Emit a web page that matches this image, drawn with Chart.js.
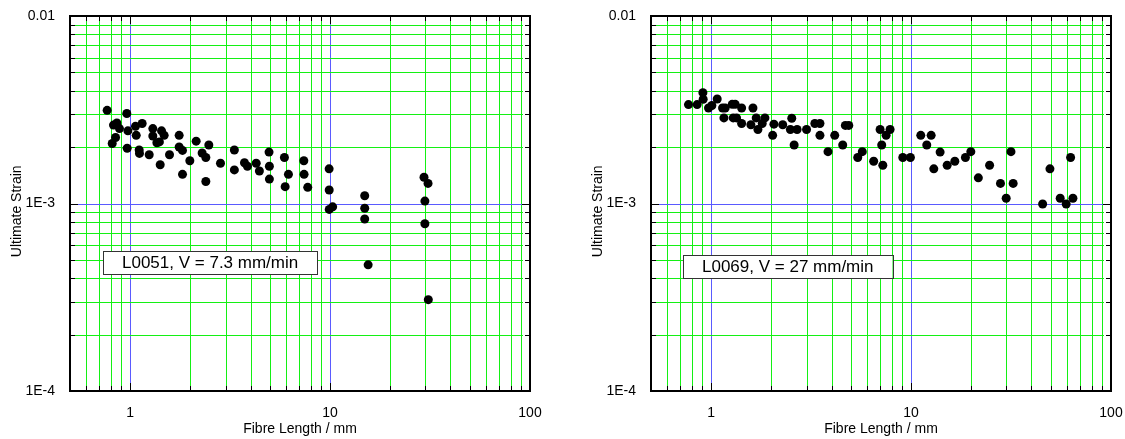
<!DOCTYPE html>
<html>
<head>
<meta charset="utf-8">
<script src="https://cdn.jsdelivr.net/npm/chart.js@4/dist/chart.umd.min.js"></script>
<style>
  body { margin: 0; background: #fff; overflow: hidden; }
  .panel { position: absolute; top: 0; width: 544px; height: 439px; }
</style>
</head>
<body>
<div class="panel" style="left:0"><canvas id="chartL0051" width="544" height="439"></canvas></div>
<div class="panel" style="left:581px"><canvas id="chartL0069" width="544" height="439"></canvas></div>
<script>
// Daten: Faserlänge (mm) und Bruchdehnung
const lengthL0051 = [0.767, 0.962, 0.813, 0.825, 0.858, 0.884, 0.845, 0.974, 0.966, 1.063,
  1.072, 1.148, 1.109, 1.113, 1.245, 1.298, 1.298, 1.36, 1.40, 1.435,
  1.479, 1.413, 1.573, 1.758, 1.758, 1.827, 1.827, 1.988, 2.138, 2.29,
  2.39, 2.39, 2.474, 2.83, 3.32, 3.32, 3.73, 3.86, 4.27, 4.43,
  4.95, 4.97, 4.97, 5.91, 6.19, 5.96, 7.39, 7.41, 7.73, 9.89,
  9.9, 9.9, 10.3, 14.9, 14.9, 14.9, 15.5, 29.5, 30.9, 29.8,
  29.8, 31.0];
const strainL0051 = [0.00314, 0.00302, 0.00209, 0.00262, 0.00269, 0.00251, 0.00225, 0.00244, 0.00197, 0.00258,
  0.00231, 0.00267, 0.00193, 0.00185, 0.00182, 0.00251, 0.00229, 0.00211, 0.00213, 0.00244,
  0.00231, 0.00161, 0.00182, 0.00231, 0.00200, 0.00192, 0.00143, 0.00169, 0.00215, 0.00186,
  0.00176, 0.00131, 0.00205, 0.00164, 0.00193, 0.00151, 0.00165, 0.00158, 0.00164, 0.00149,
  0.00188, 0.00158, 0.00135, 0.00176, 0.00143, 0.00123, 0.00169, 0.00143, 0.00122, 0.00153,
  0.00118, 0.00093, 0.00096, 0.00110, 0.000943, 0.000827, 0.000471, 0.00138, 0.00128, 0.00103,
  0.00078, 0.000307];

const lengthL0069 = [0.770, 0.851, 0.909, 0.912, 0.970, 1.008, 1.072, 1.14, 1.175, 1.158,
  1.274, 1.319, 1.289, 1.34, 1.42, 1.42, 1.58, 1.618, 1.68, 1.713,
  1.80, 1.857, 2.03, 2.06, 2.28, 2.49, 2.53, 2.69, 2.60, 3.00,
  3.30, 3.50, 3.50, 3.84, 4.15, 4.55, 4.69, 4.88, 5.41, 5.70,
  6.50, 7.0, 7.13, 7.22, 7.50, 7.85, 9.09, 9.92, 11.18, 12.6,
  11.98, 13.97, 12.99, 15.15, 16.55, 18.7, 19.9, 21.7, 24.7, 28.0,
  29.9, 31.6, 32.4, 45.5, 49.5, 55.7, 59.7, 62.8, 64.5];
const strainL0069 = [0.00337, 0.00337, 0.00390, 0.00360, 0.00323, 0.00333, 0.00361, 0.00323, 0.00323, 0.00286,
  0.00338, 0.00338, 0.00286, 0.00286, 0.00323, 0.00267, 0.00263, 0.00323, 0.00286, 0.00248,
  0.00267, 0.00286, 0.00231, 0.00265, 0.00263, 0.00248, 0.00285, 0.00248, 0.00205, 0.00248,
  0.00267, 0.00267, 0.00231, 0.00189, 0.00231, 0.00205, 0.00261, 0.00261, 0.00176, 0.00189,
  0.00168, 0.00248, 0.00205, 0.00160, 0.00231, 0.00248, 0.00176, 0.00176, 0.00231, 0.00231,
  0.00205, 0.00188, 0.00153, 0.00160, 0.00168, 0.00176, 0.00189, 0.00137, 0.00160, 0.00128,
  0.001066, 0.00189, 0.00128, 0.000994, 0.00153, 0.001066, 0.000994, 0.00176, 0.001066];

// Achsen
const lengthTicks = [0.5, 0.6, 0.7, 0.8, 0.9, 1, 2, 3, 4, 5, 6, 7, 8, 9,
  10, 20, 30, 40, 50, 60, 70, 80, 90, 100];
const strainTicks = [0.0001, 0.0002, 0.0003, 0.0004, 0.0005, 0.0006, 0.0007, 0.0008, 0.0009,
  0.001, 0.002, 0.003, 0.004, 0.005, 0.006, 0.007, 0.008, 0.009, 0.01];
const lengthLabelValues = [1, 10, 100];
const lengthLabelTexts = ["1", "10", "100"];
const strainLabelValues = [0.0001, 0.001, 0.01];
const strainLabelTexts = ["1E-4", "1E-3", "0.01"];

const FONT = "'Liberation Sans', Arial, sans-serif";
const GREEN = "#14f014";
const BLUE = "#5a5aff";

function same(a, b) {
  return Math.abs(Math.log10(a) - Math.log10(b)) < 1e-6;
}
function isDecade(v) {
  const l = Math.log10(v);
  return Math.abs(l - Math.round(l)) < 1e-6;
}
function labelFor(v, values, texts) {
  const i = values.findIndex((t) => same(t, v));
  return i >= 0 ? texts[i] : "";
}

// Gitter selbst zeichnen (grün = Zwischenwerte, blau = Dekaden)
const gridPlugin = {
  id: "logGrid",
  beforeDatasetsDraw(chart) {
    const { ctx, chartArea: a, scales } = chart;
    ctx.save();
    ctx.lineWidth = 1;
    lengthTicks.forEach((v) => {
      if (same(v, lengthTicks[0]) || same(v, lengthTicks[lengthTicks.length - 1])) return;
      const px = Math.round(scales.x.getPixelForValue(v)) + 0.5;
      ctx.strokeStyle = isDecade(v) ? BLUE : GREEN;
      ctx.beginPath();
      ctx.moveTo(px, a.top);
      ctx.lineTo(px, a.bottom);
      ctx.stroke();
    });
    strainTicks.forEach((v) => {
      if (same(v, strainTicks[0]) || same(v, strainTicks[strainTicks.length - 1])) return;
      const py = Math.round(scales.y.getPixelForValue(v)) + 0.5;
      ctx.strokeStyle = isDecade(v) ? BLUE : GREEN;
      ctx.beginPath();
      ctx.moveTo(a.left, py);
      ctx.lineTo(a.right - 7, py);
      ctx.stroke();
    });
    ctx.restore();
  }
};

// Rahmen, Ticks nach innen und Beschriftungsbox
function framePlugin(note) {
  return {
    id: "frame",
    afterDatasetsDraw(chart) {
      const { ctx, chartArea: a, scales } = chart;
      ctx.save();
      ctx.strokeStyle = "#000";
      ctx.lineWidth = 1;
      ctx.beginPath();
      lengthTicks.forEach((v) => {
        const px = Math.round(scales.x.getPixelForValue(v)) + 0.5;
        const len = isDecade(v) ? 8 : 5;
        ctx.moveTo(px, a.top); ctx.lineTo(px, a.top + len);
        ctx.moveTo(px, a.bottom); ctx.lineTo(px, a.bottom - len);
      });
      strainTicks.forEach((v) => {
        const py = Math.round(scales.y.getPixelForValue(v)) + 0.5;
        const len = isDecade(v) ? 8 : 5;
        ctx.moveTo(a.left, py); ctx.lineTo(a.left + len, py);
        ctx.moveTo(a.right, py); ctx.lineTo(a.right - len, py);
      });
      ctx.stroke();
      ctx.lineWidth = 2;
      ctx.strokeRect(a.left, a.top, a.right - a.left, a.bottom - a.top);

      // Beschriftungsbox
      ctx.font = "17px " + FONT;
      const w = ctx.measureText(note.text).width + 38;
      const h = 23;
      const bx = a.left + note.dx, by = a.top + note.dy;
      ctx.fillStyle = "#fff";
      ctx.fillRect(bx, by, w, h);
      ctx.lineWidth = 1;
      ctx.strokeStyle = "#333";
      ctx.strokeRect(Math.round(bx) + 0.5, Math.round(by) + 0.5, Math.round(w), h);
      ctx.fillStyle = "#000";
      ctx.textAlign = "center";
      ctx.textBaseline = "middle";
      ctx.fillText(note.text, bx + w / 2, by + h / 2 + 1);
      ctx.restore();
    }
  };
}

function makeChart(id, lengths, strains, note) {
  const points = lengths.map((x, i) => ({ x: x, y: strains[i] }));
  new Chart(document.getElementById(id), {
    type: "scatter",
    data: {
      datasets: [{
        data: points,
        pointRadius: 4.5,
        pointBackgroundColor: "#000",
        pointBorderWidth: 0,
        showLine: false
      }]
    },
    options: {
      responsive: false,
      animation: false,
      layout: { padding: { left: 9, right: 14, top: 16, bottom: 0 } },
      plugins: { legend: { display: false }, tooltip: { enabled: false } },
      scales: {
        x: {
          type: "logarithmic",
          min: 0.5,
          max: 100,
          afterBuildTicks: (s) => { s.ticks = lengthTicks.map((v) => ({ value: v })); },
          afterFit: (s) => { s.height = 48; s.paddingLeft = 0; s.paddingRight = 0; },
          grid: { display: false },
          border: { display: false },
          ticks: {
            autoSkip: false, maxRotation: 0, padding: 6, color: "#000",
            font: { family: FONT, size: 14 },
            callback: (v) => labelFor(v, lengthLabelValues, lengthLabelTexts)
          },
          title: {
            display: true, text: "Fibre Length / mm", color: "#000",
            font: { family: FONT, size: 14 }, padding: { top: 0, bottom: 1 }
          }
        },
        y: {
          type: "logarithmic",
          min: 0.0001,
          max: 0.01,
          afterBuildTicks: (s) => { s.ticks = strainTicks.map((v) => ({ value: v })); },
          afterFit: (s) => { s.width = 61; },
          grid: { display: false },
          border: { display: false },
          ticks: {
            autoSkip: false, padding: 7, color: "#000",
            font: { family: FONT, size: 14 },
            callback: (v) => labelFor(v, strainLabelValues, strainLabelTexts)
          },
          title: {
            // nachgestellte Leerzeichen schieben den Titel etwas nach unten
            display: true, text: "Ultimate Strain    ", color: "#000",
            font: { family: FONT, size: 14 }, padding: { top: 0, bottom: 0 }
          }
        }
      }
    },
    plugins: [gridPlugin, framePlugin(note)]
  });
}

makeChart("chartL0051", lengthL0051, strainL0051, { text: "L0051, V = 7.3 mm/min", dx: 33, dy: 235 });
makeChart("chartL0069", lengthL0069, strainL0069, { text: "L0069, V = 27 mm/min", dx: 32, dy: 239 });
</script>
</body>
</html>
